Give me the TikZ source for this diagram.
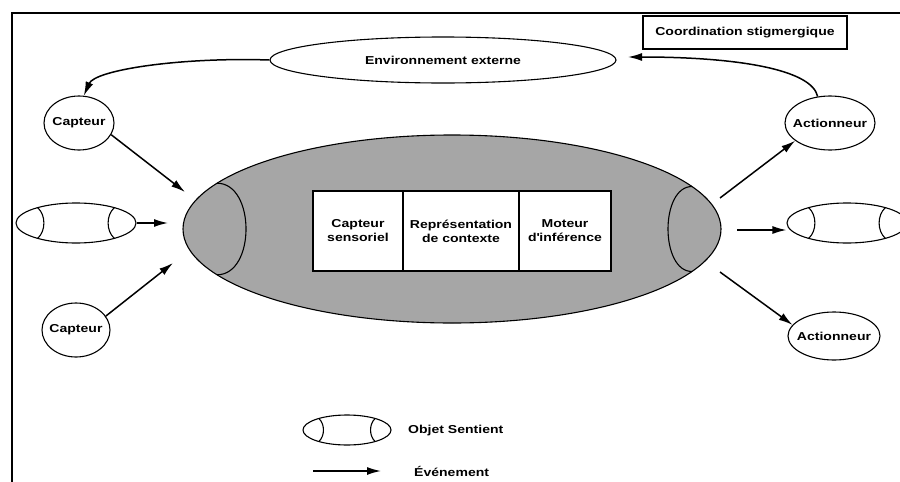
\documentclass[tikz,border=0pt]{standalone}
\usepackage{fontspec}
\setmainfont{Liberation Sans}[FakeStretch=1.22]
\usetikzlibrary{shapes.geometric,arrows.meta}
\definecolor{coregray}{RGB}{166,166,166}

% sentient object: oval with an end cap at each side
% #1 name, #2 x, #3 y, #4 x radius, #5 y radius
\newcommand\sentobj[5]{%
  \node[sentient, minimum width=2*#4pt, minimum height=2*#5pt] (#1) at (#2,#3) {};
  \begin{scope}[shift={(#2,#3)}]
    \draw[capline] (-0.64*#4,-0.77*#5) .. controls (-0.5*#4,-0.4*#5) and (-0.5*#4,0.4*#5) .. (-0.64*#4,0.77*#5);
    \draw[capline] (0.64*#4,-0.77*#5) .. controls (0.5*#4,-0.4*#5) and (0.5*#4,0.4*#5) .. (0.64*#4,0.77*#5);
  \end{scope}}

\begin{document}
\begin{tikzpicture}[x=1pt,y=-1pt,
  every node/.style={font=\bfseries\fontsize{11.5}{14}\selectfont, align=center, inner sep=0pt},
  every label/.style={font=\bfseries\fontsize{11.5}{14}\selectfont, inner sep=0pt},
  oval/.style={draw, ellipse, line width=1.1pt, fill=white},
  sentient/.style={draw, ellipse, line width=1.1pt, fill=white},
  capline/.style={line width=1.1pt},
  module/.style={draw, rectangle, line width=1.2pt, fill=white, minimum height=80pt},
  evt/.style={line width=1.5pt, -{Latex[length=14pt,width=8pt]}},
]
\clip (0,0) rectangle (900,482);
\fill[white] (0,0) rectangle (900,482);

% frame
\draw[line width=2.5pt] (900,13) -- (12,13) -- (12,482);

% central sentient object
\node[draw, ellipse, fill=coregray, line width=1.1pt, minimum width=538pt, minimum height=188pt] (core) at (452,229) {};
\draw[capline] (217,183.2) .. controls (255.7,183.2) and (255.7,274.8) .. (217,274.8);
\draw[capline] (692,186.5) .. controls (660,186.5) and (660,271.5) .. (692,271.5);

\node[module, minimum width=90pt] (sens) at (358,231) {Capteur\\sensoriel};
\node[module, minimum width=116pt] (ctx) at (461,231) {Représentation\\de contexte};
\node[module, minimum width=92pt] (inf) at (565,231) {Moteur\\d\textquotesingle inférence};

% environment and coordination
\node[oval, minimum width=346pt, minimum height=46pt, label=center:Environnement externe] (env) at (443,60) {};
\node[draw, line width=1.3pt, minimum width=204pt, minimum height=33pt] (coord) at (745,32.5) {Coordination stigmergique};

% sensors and actuators
\node[oval, minimum width=70pt, minimum height=54pt, label=center:Capteur] (cap1) at (79,123) {};
\node[oval, minimum width=68pt, minimum height=54pt, label=center:Capteur] (cap2) at (76,330) {};
\node[oval, minimum width=90pt, minimum height=54pt, label=center:Actionneur] (act1) at (830,123) {};
\node[oval, minimum width=92pt, minimum height=48pt, label=center:Actionneur] (act2) at (834,336) {};

% neighbouring sentient objects
\sentobj{objL}{76}{223}{60}{20}
\sentobj{objR}{847}{223}{60}{20}

% arrow ends near the central object
\coordinate (inTop) at (185,192);
\coordinate (inMid) at (168,223);
\coordinate (inBot) at (173,263);
\coordinate (outTop) at (720,198);
\coordinate (outMid) at (737,230);
\coordinate (outBot) at (720,272);
\coordinate (envIn) at (628,57);

\draw[evt] (cap1.-20) -- (inTop);
\draw[evt] (objL.east) -- (inMid);
\draw[evt] (cap2.25) -- (inBot);
\draw[evt] (outTop) -- (act1.207);
\draw[evt] (outMid) -- (objR.west |- outMid);
\draw[evt] (outBot) -- (act2.165);
\draw[evt] (env.west) .. controls (180,57) and (95,70) .. (cap1.80);
\draw[evt] (act1.115) .. controls (812,70) and (740,57) .. (envIn);

% legend
\sentobj{legobj}{347}{430}{44}{15}
\node[anchor=west] (legobjtxt) at (408,431) {Objet Sentient};
\coordinate (legA) at (313,471);
\coordinate (legB) at (381,471);
\draw[evt] (legA) -- (legB);
\node[anchor=west] (legevttxt) at (414,471) {Événement};
\end{tikzpicture}
\end{document}
